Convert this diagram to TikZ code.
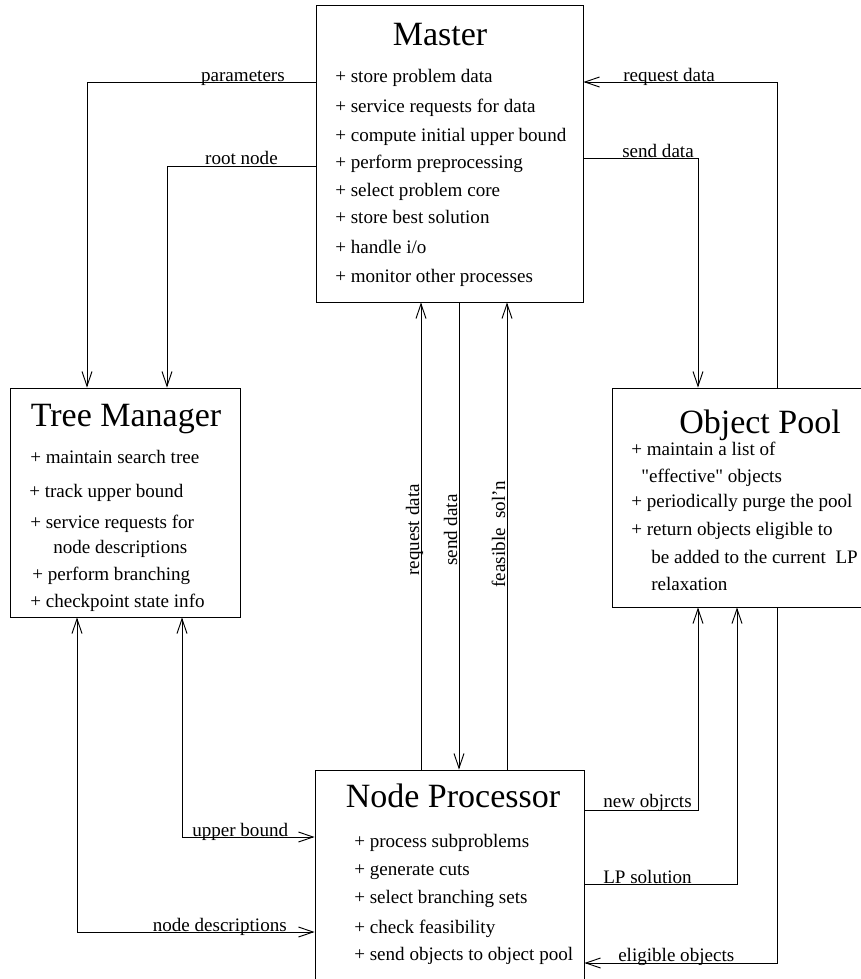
\documentclass[tikz,border=0pt]{standalone}
\usepackage{fontspec}
\setmainfont{Liberation Serif}
\setmonofont{Liberation Serif}
\usetikzlibrary{arrows.meta,fit}
\tikzset{
  box/.style={draw, line width=0.7pt, inner sep=0pt},
  conn/.style={line width=0.7pt},
  tipend/.style={-{Straight Barb[length=11pt,width=7.5pt]}},
  tipboth/.style={{Straight Barb[length=11pt,width=7.5pt]}-{Straight Barb[length=11pt,width=7.5pt]}},
  ttl/.style={font=\fontsize{25.5}{30}\selectfont, anchor=base, inner sep=0pt},
  itm/.style={font=\fontsize{14.3}{17}\selectfont, anchor=base west, inner sep=0pt},
  lbl/.style={font=\fontsize{14.3}{17}\selectfont, inner sep=0pt},
}
\begin{document}
\begin{tikzpicture}[x=0.75pt,y=-0.75pt]
\useasboundingbox (0,0) rectangle (861,979);
\clip (0,0) rectangle (861,979);
% boxes
\node[box, fit={(316,5) (583,302)}] (master) {};
\node[box, fit={(10,388) (240,617)}] (tm) {};
\node[box, fit={(612,388) (885,607)}] (op) {};
\node[box, fit={(315,770) (584,1000)}] (np) {};
% Master text
\node[ttl] (mt) at (440,45) {Master};
\node[itm] (m1) at (335,82) {+ store problem data};
\node[itm] (m2) at (335,112) {+ service requests for data};
\node[itm] (m3) at (335,141) {+ compute initial upper bound};
\node[itm] (m4) at (335,168) {+ perform preprocessing};
\node[itm] (m5) at (335,196) {+ select problem core};
\node[itm] (m6) at (335,223) {+ store best solution};
\node[itm] (m7) at (335,253) {+ handle i/o};
\node[itm] (m8) at (335,282) {+ monitor other processes};
% Tree Manager text
\node[ttl] (tt) at (126,426) {Tree Manager};
\node[itm] (t1) at (30,463) {+ maintain search tree};
\node[itm] (t2) at (29,497) {+ track upper bound};
\node[itm] (t3) at (30,528) {+ service requests for};
\node[itm] (t4) at (53,553) {node descriptions};
\node[itm] (t5) at (32,580) {+ perform branching};
\node[itm] (t6) at (30,607) {+ checkpoint state info};
% Object Pool text
\node[ttl] (ot) at (760,433) {Object Pool};
\node[itm] (o1) at (631,455) {+ maintain a list of};
\node[itm] (o2) at (641,482) {\texttt{"}effective\texttt{"} objects};
\node[itm] (o3) at (631,507) {+ periodically purge the pool};
\node[itm] (o4) at (631,535) {+ return objects eligible to};
\node[itm] (o5) at (651,563) {be added to the current\ \ LP};
\node[itm] (o6) at (651,590) {relaxation};
% Node Processor text
\node[ttl] (nt) at (453,807) {Node Processor};
\node[itm] (n1) at (354,847) {+ process subproblems};
\node[itm] (n2) at (354,875) {+ generate cuts};
\node[itm] (n3) at (354,903) {+ select branching sets};
\node[itm] (n4) at (354,933) {+ check feasibility};
\node[itm] (n5) at (354,960) {+ send objects to object pool};
% bend coordinates
\coordinate (cpar) at (87,82);
\coordinate (croot) at (167,166);
\coordinate (creq) at (777,82);
\coordinate (csend) at (698,158);
\coordinate (cvrq) at (421,500);
\coordinate (cvsd) at (459,500);
\coordinate (cvfs) at (507,500);
\coordinate (cub) at (182,837);
\coordinate (cnd) at (77,932);
\coordinate (cnew) at (698,810);
\coordinate (clp) at (737,884);
\coordinate (celig) at (777,963);
% connectors
\draw[conn,tipend] (cpar -| master.west) -- (cpar) -- (cpar |- tm.north);
\draw[conn,tipend] (croot -| master.west) -- (croot) -- (croot |- tm.north);
\draw[conn,tipend] (creq |- op.north) -- (creq) -- (creq -| master.east);
\draw[conn,tipend] (csend -| master.east) -- (csend) -- (csend |- op.north);
\draw[conn,tipend] (cvrq |- np.north) -- (cvrq |- master.south);
\draw[conn,tipend] (cvsd |- master.south) -- (cvsd |- np.north);
\draw[conn,tipend] (cvfs |- np.north) -- (cvfs |- master.south);
\draw[conn,tipboth] (cub |- tm.south) -- (cub) -- (cub -| np.west);
\draw[conn,tipboth] (cnd |- tm.south) -- (cnd) -- (cnd -| np.west);
\draw[conn,tipend] (cnew -| np.east) -- (cnew) -- (cnew |- op.south);
\draw[conn,tipend] (clp -| np.east) -- (clp) -- (clp |- op.south);
\draw[conn,tipend] (celig |- op.south) -- (celig) -- (celig -| np.east);
% labels
\node[lbl, anchor=base east] (lpar) at (285,81) {parameters};
\node[lbl, anchor=base east] (lroot) at (278,164) {root node};
\node[lbl, anchor=base west] (lreq) at (623,81) {request data};
\node[lbl, anchor=base west] (lsend) at (622,157) {send data};
\node[lbl, anchor=base, rotate=90] (lvrq) at (419,530) {request data};
\node[lbl, anchor=base, rotate=90] (lvsd) at (457,530) {send data};
\node[lbl, anchor=base, rotate=90] (lvfs) at (505,534) {feasible\ \ sol'n};
\node[lbl, anchor=base west] (lub) at (192,836) {upper bound};
\node[lbl, anchor=base east] (lnd) at (287,931) {node descriptions};
\node[lbl, anchor=base west] (lnew) at (603,807) {new objrcts};
\node[lbl, anchor=base west] (llp) at (603,883) {LP solution};
\node[lbl, anchor=base west] (lelig) at (618,961) {eligible objects};
\end{tikzpicture}
\end{document}
